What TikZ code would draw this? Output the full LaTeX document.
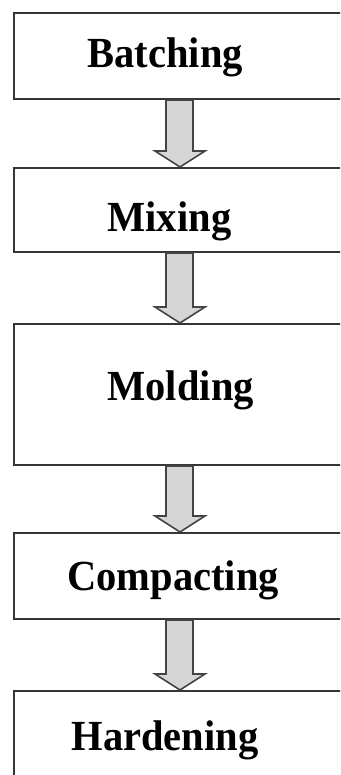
\documentclass[tikz,border=0pt]{standalone}
\usepackage{fontspec}
\setmainfont{Liberation Serif}
\usetikzlibrary{calc}
\definecolor{boxline}{HTML}{363636}
\definecolor{arrline}{HTML}{444444}
\definecolor{arrfill}{HTML}{D6D6D6}
\tikzset{
  stepbox/.style={draw=boxline, line width=2pt, fill=white, rectangle,
    minimum width=346.5pt, text width=346.5pt, inner xsep=0pt, inner ysep=0pt,
    align=left, text depth=0pt, font=\fontsize{40.5pt}{44pt}\selectfont\bfseries},
  fatarrow/.style={draw=arrline, line width=1.6pt, fill=arrfill, line join=miter}
}
\newcommand\steptext[1]{\scalebox{1}[1.06]{#1}}
\newcommand\flowarrow[2]{%
  \draw[fatarrow] let \p1=(#1.south), \p2=(#2.north) in
    (166pt,\y1) -- (193pt,\y1) -- (193pt,\y2+16pt) -- (205pt,\y2+16pt)
    -- (180pt,\y2) -- (155pt,\y2+16pt) -- (166pt,\y2+16pt) -- cycle;}
\begin{document}
\begin{tikzpicture}[x=1pt,y=1pt]
\useasboundingbox (0,0) rectangle (340,-775);
\fill[white] (0,0) rectangle (340,-775);
\clip (0,0) rectangle (340,-775);
\node[stepbox, minimum height=85.5pt, text height=23.5pt] (b1) at (186.75,-56.25) {\hspace*{74pt}\steptext{Batching}};
\node[stepbox, minimum height=84pt, text height=44pt] (b2) at (186.75,-210) {\hspace*{94pt}\steptext{Mixing}};
\node[stepbox, minimum height=141pt, text height=11pt] (b3) at (186.75,-394.5) {\hspace*{94pt}\steptext{Molding}};
\node[stepbox, minimum height=86pt, text height=28pt] (b4) at (186.75,-576) {\hspace*{54pt}\steptext{Compacting}};
\node[stepbox, minimum height=99pt, text height=19pt] (b5) at (186.75,-740.5) {\hspace*{58pt}\steptext{Hardening}};
\flowarrow{b1}{b2}
\flowarrow{b2}{b3}
\flowarrow{b3}{b4}
\flowarrow{b4}{b5}
\end{tikzpicture}
\end{document}
